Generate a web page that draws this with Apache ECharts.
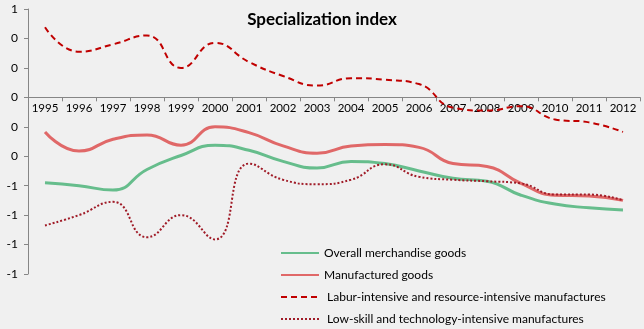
<!DOCTYPE html>
<html>
<head>
<meta charset="utf-8">
<script src="https://cdn.jsdelivr.net/npm/echarts@6/dist/echarts.min.js"></script>
<style>
  html, body { margin: 0; padding: 0; background: #f0f0f0; }
  #chart { width: 644px; height: 329px; }
</style>
</head>
<body>
<div id="chart"></div>
<script>
const years = ['1995', '1996', '1997', '1998', '1999', '2000', '2001', '2002', '2003',
  '2004', '2005', '2006', '2007', '2008', '2009', '2010', '2011', '2012'];

const overall = [-0.58, -0.6, -0.63, -0.49, -0.395, -0.325, -0.36, -0.435, -0.48,
  -0.435, -0.45, -0.5, -0.55, -0.57, -0.665, -0.725, -0.75, -0.765];
const manufactured = [-0.235, -0.365, -0.285, -0.255, -0.325, -0.2, -0.24, -0.33, -0.38,
  -0.33, -0.32, -0.34, -0.45, -0.47, -0.585, -0.665, -0.67, -0.7];
const laburIntensive = [0.476, 0.31, 0.36, 0.42, 0.2, 0.37, 0.24, 0.145, 0.08,
  0.13, 0.12, 0.09, -0.07, -0.09, -0.06, -0.15, -0.17, -0.235];
const lowSkill = [-0.87, -0.8, -0.71, -0.95, -0.8, -0.965, -0.45, -0.56, -0.59,
  -0.56, -0.455, -0.54, -0.56, -0.57, -0.585, -0.66, -0.66, -0.7];

const seriesNames = [
  'Overall merchandise goods',
  'Manufactured goods',
  ' Labur-intensive and resource-intensive manufactures',
  ' Low-skill and technology-intensive manufactures'
];

const yMin = -1.2;
const yMax = 0.6;

const font = 'Lato, "Liberation Sans", sans-serif';
const axisColor = '#868686';

// plot area
const plotTop = 9;
const plotBottom = 55;
const plotHeight = 329 - plotTop - plotBottom;
// the year axis sits on the zero line: a second, empty grid ends exactly there
const zeroOffset = plotHeight * yMax / (yMax - yMin);

const chart = echarts.init(document.getElementById('chart'));

chart.setOption({
  backgroundColor: '#f0f0f0',
  animation: false,
  title: {
    text: 'Specialization index',
    left: 'center',
    top: 6,
    textStyle: { fontFamily: font, fontSize: 17, fontWeight: 'bold', color: '#000' }
  },
  grid: [
    { left: 28, right: 4, top: plotTop, bottom: plotBottom },
    { left: 28, right: 4, top: plotTop, height: zeroOffset }
  ],
  legend: {
    orient: 'vertical',
    left: 280,
    top: 247,
    padding: 0,
    itemWidth: 38,
    itemHeight: 12,
    itemGap: 10,
    itemStyle: { opacity: 0 },
    textStyle: { fontFamily: font, fontSize: 12, color: '#000' },
    data: seriesNames
  },
  xAxis: [
    {
      type: 'category',
      gridIndex: 0,
      data: years,
      boundaryGap: true,
      show: false
    },
    {
      type: 'category',
      gridIndex: 1,
      data: years,
      boundaryGap: true,
      position: 'bottom',
      axisLine: { onZero: false, lineStyle: { color: axisColor, width: 1 } },
      axisTick: { show: true, length: 4, lineStyle: { color: axisColor } },
      axisLabel: { fontFamily: font, fontSize: 11.5, color: '#000', margin: 5, interval: 0 }
    }
  ],
  yAxis: [
    {
      type: 'value',
      gridIndex: 0,
      min: yMin,
      max: yMax,
      interval: 0.2,
      splitLine: { show: false },
      axisLine: { show: true, lineStyle: { color: axisColor, width: 1 } },
      axisTick: { show: true, length: 4, lineStyle: { color: axisColor } },
      axisLabel: {
        fontFamily: font, fontSize: 12, color: '#000', margin: 10,
        formatter: v => String(Math.round(v) || 0)
      }
    },
    { type: 'value', gridIndex: 1, min: 0, max: 1, show: false }
  ],
  series: [
    {
      name: seriesNames[0], type: 'line', data: overall, smooth: 0.5,
      symbol: 'none', color: '#66bd8c', z: 3,
      lineStyle: { width: 3, color: '#66bd8c' }
    },
    {
      name: seriesNames[1], type: 'line', data: manufactured, smooth: 0.5,
      symbol: 'none', color: '#e06868', z: 3,
      lineStyle: { width: 3, color: '#e06868' }
    },
    {
      name: seriesNames[2], type: 'line', data: laburIntensive, smooth: 0.5,
      symbol: 'none', color: '#c00000', z: 3,
      lineStyle: { width: 2, color: '#c00000', type: [6, 4] }
    },
    {
      name: seriesNames[3], type: 'line', data: lowSkill, smooth: 0.5,
      symbol: 'none', color: '#a01c28', z: 3,
      lineStyle: { width: 2, color: '#a01c28', type: [2, 2] }
    }
  ]
});
</script>
</body>
</html>
